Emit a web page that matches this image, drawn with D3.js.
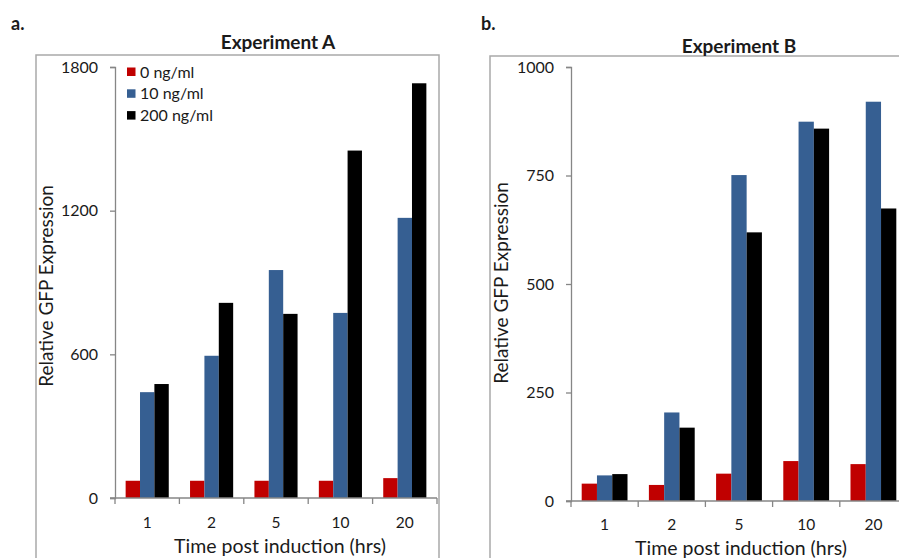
<!DOCTYPE html>
<html>
<head>
<meta charset="utf-8">
<script src="https://cdn.jsdelivr.net/npm/d3@7/dist/d3.min.js"></script>
<style>
  html, body { margin: 0; padding: 0; background: #fff; }
  svg { display: block; font-family: Lato, "Open Sans", "DejaVu Sans", sans-serif; }
</style>
</head>
<body>
<svg id="fig" width="899" height="558"></svg>
<script>
// Time points (hours after induction) and inducer doses
const timePoints = ["1", "2", "5", "10", "20"];
const doses = ["0 ng/ml", "10 ng/ml", "200 ng/ml"];
const doseColors = ["#c00000", "#365f92", "#000000"];

// Experiment A – relative GFP expression per dose, one value per time point
const expA_0 = [72, 72, 72, 72, 83];
const expA_10 = [442, 594, 952, 773, 1170];
const expA_200 = [476, 815, 769, 1451, 1732];
const expATicks = [0, 600, 1200, 1800];

// Experiment B – relative GFP expression per dose
const expB_0 = [40, 37, 63, 92, 85];
const expB_10 = [59, 204, 751, 874, 920];
const expB_200 = [62, 169, 619, 858, 674];
const expBTicks = [0, 250, 500, 750, 1000];

const svg = d3.select("#fig");
const axisColor = "#868686";
const textColor = "#1a1a1a";

function panel(opts) {
  const g = svg.append("g");
  const series = [opts.s0, opts.s10, opts.s200];

  // outer chart frame
  g.append("rect")
    .attr("x", opts.frame[0]).attr("y", opts.frame[1])
    .attr("width", opts.frame[2]).attr("height", opts.frame[3])
    .attr("fill", "none").attr("stroke", "#a9a9a9").attr("stroke-width", 1.5);

  // panel letter and title
  g.append("text").attr("x", opts.letterX).attr("y", 30)
    .attr("font-size", 18).attr("font-weight", 700).attr("fill", textColor)
    .text(opts.letter);
  g.append("text").attr("x", opts.titleX).attr("y", opts.titleY)
    .attr("text-anchor", "middle").attr("font-size", 19).attr("font-weight", 700)
    .attr("fill", textColor).text(opts.title);

  const x = d3.scaleBand().domain(timePoints).range(opts.xRange).padding(0);
  const xs = d3.scaleBand().domain(d3.range(doses.length))
    .range([0, x.bandwidth()]).paddingInner(0).paddingOuter(opts.groupPad);
  const y = d3.scaleLinear().domain([0, d3.max(opts.ticks)]).range(opts.yRange);

  // bars
  timePoints.forEach((t, i) => {
    series.forEach((s, k) => {
      g.append("rect")
        .attr("x", x(t) + xs(k))
        .attr("y", y(s[i]))
        .attr("width", xs.bandwidth())
        .attr("height", y(0) - y(s[i]))
        .attr("fill", doseColors[k]);
    });
  });

  // y axis
  const yAxis = g.append("g")
    .attr("transform", `translate(${opts.xRange[0]},0)`)
    .call(d3.axisLeft(y).tickValues(opts.ticks).tickFormat(d3.format("d"))
      .tickSize(5).tickSizeOuter(5).tickPadding(12));
  yAxis.selectAll("path, line").attr("stroke", axisColor).attr("stroke-width", 1.3);
  yAxis.selectAll("text").attr("font-size", 16).attr("fill", textColor);
  yAxis.attr("font-family", null);

  // x axis: baseline, category divider ticks, centred labels
  const x0 = y(0);
  const xAxis = g.append("g").attr("transform", `translate(0,${x0})`);
  xAxis.append("line")
    .attr("x1", opts.xRange[0] - 5).attr("x2", opts.xRange[1])
    .attr("stroke", axisColor).attr("stroke-width", 1.3);
  const dividers = timePoints.map(t => x(t)).concat([opts.xRange[1]]);
  xAxis.selectAll("line.div").data(dividers).join("line")
    .attr("class", "div")
    .attr("x1", d => d).attr("x2", d => d).attr("y1", 0).attr("y2", 6)
    .attr("stroke", axisColor).attr("stroke-width", 1.3);
  xAxis.selectAll("text.cat").data(timePoints).join("text")
    .attr("class", "cat")
    .attr("x", d => x(d) + x.bandwidth() / 2)
    .attr("y", opts.catLabelY - x0)
    .attr("text-anchor", "middle").attr("font-size", 15.5).attr("fill", textColor)
    .text(d => d);

  // axis titles
  g.append("text")
    .attr("x", (opts.xRange[0] + opts.xRange[1]) / 2 + opts.xTitleDx)
    .attr("y", opts.xTitleY)
    .attr("text-anchor", "middle").attr("font-size", 19.5).attr("fill", textColor)
    .text("Time post induction (hrs)");
  g.append("text")
    .attr("transform", `translate(${opts.yTitleX},${opts.yTitleY}) rotate(-90)`)
    .attr("text-anchor", "middle").attr("font-size", 19).attr("fill", textColor)
    .text("Relative GFP Expression");

  // legend
  if (opts.legend) {
    const lg = g.append("g").attr("transform", "translate(127,72)");
    doses.forEach((d, k) => {
      const row = lg.append("g").attr("transform", `translate(0,${k * 21.8})`);
      row.append("rect").attr("x", 0).attr("y", -4.5).attr("width", 8.5).attr("height", 8.5)
        .attr("fill", doseColors[k]);
      row.append("text").attr("x", 13).attr("y", 5.5).attr("font-size", 16)
        .attr("fill", textColor).text(d);
    });
  }
}

panel({
  letter: "a.", letterX: 11,
  title: "Experiment A", titleX: 278, titleY: 49,
  frame: [36, 55, 403, 520],
  xRange: [115, 437], yRange: [498, 67],
  groupPad: 0.74,
  ticks: expATicks,
  s0: expA_0, s10: expA_10, s200: expA_200,
  catLabelY: 528, xTitleY: 553, xTitleDx: 4,
  yTitleX: 53, yTitleY: 286,
  legend: true
});

panel({
  letter: "b.", letterX: 481,
  title: "Experiment B", titleX: 739, titleY: 53,
  frame: [490, 56, 460, 520],
  xRange: [571, 907], yRange: [501, 67],
  groupPad: 0.7,
  ticks: expBTicks,
  s0: expB_0, s10: expB_10, s200: expB_200,
  catLabelY: 530, xTitleY: 555, xTitleDx: 2,
  yTitleX: 508, yTitleY: 283,
  legend: false
});
</script>
</body>
</html>
